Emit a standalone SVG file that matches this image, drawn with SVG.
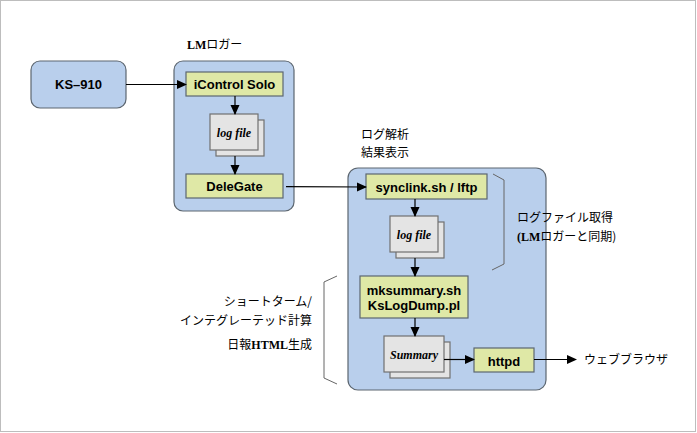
<svg xmlns="http://www.w3.org/2000/svg" width="697" height="433" viewBox="0 0 697 433">
<defs>
<marker id="ah" markerWidth="10" markerHeight="10" refX="9" refY="5" orient="auto" markerUnits="userSpaceOnUse">
<path d="M0,0.5 L10,5 L0,9.5 Z" fill="#000"/>
</marker>
</defs>
<style>
.cont{fill:#b9cfec;stroke:#5c6670;stroke-width:1.2}
.proc{fill:#dfe8a6;stroke:#5c6670;stroke-width:1.2}
.doc{fill:#e4e4e4;stroke:#707070;stroke-width:1.2}
.pt{font-family:"Liberation Sans",Arial,sans-serif;font-weight:bold;font-size:13px;text-anchor:middle;fill:#000}
.dt{font-family:"Liberation Serif","Times New Roman",serif;font-weight:bold;font-style:italic;font-size:12px;text-anchor:middle;fill:#000}
.jp{font-family:"Noto Sans CJK JP","Liberation Sans",sans-serif;font-size:12px;fill:#000}
.lat{font-family:"Liberation Serif","Times New Roman",serif;font-weight:bold}
.conn line,.conn polyline{stroke:#000;stroke-width:1.2;fill:none}
.br{stroke:#666;stroke-width:1;fill:none}
</style>
<rect x="0.5" y="0.5" width="695" height="431" fill="#fff" stroke="#bdbdbd" stroke-width="1"/>

<g id="ks910">
<rect class="cont" x="31" y="61" width="95" height="47" rx="9"/>
<text class="pt" x="78.5" y="89">KS–910</text>
</g>

<g id="lmlogger">
<rect class="cont" x="174" y="61" width="120" height="150" rx="9"/>
<text class="jp" x="187" y="49"><tspan class="lat">LM</tspan>ロガー</text>
</g>

<g id="icontrol">
<rect class="proc" x="186" y="72" width="97" height="24"/>
<text class="pt" x="234.5" y="89">iControl Solo</text>
</g>

<g id="logfile1">
<rect class="doc" x="216" y="120" width="48" height="36"/>
<rect class="doc" x="210" y="114" width="48" height="36"/>
<text class="dt" x="234" y="137">log file</text>
</g>

<g id="delegate">
<rect class="proc" x="186" y="174" width="97" height="24"/>
<text class="pt" x="234.5" y="191">DeleGate</text>
</g>

<g id="analysis">
<rect class="cont" x="348" y="168" width="198" height="222" rx="10"/>
<text class="jp" x="361" y="139">ログ解析</text>
<text class="jp" x="361" y="157">結果表示</text>
</g>

<g id="synclink">
<rect class="proc" x="366" y="174" width="121" height="25"/>
<text class="pt" x="426.5" y="191.5">synclink.sh / lftp</text>
</g>

<g id="logfile2">
<rect class="doc" x="396" y="222" width="48" height="36"/>
<rect class="doc" x="390" y="216" width="48" height="36"/>
<text class="dt" x="414" y="239">log file</text>
</g>

<g id="mksummary">
<rect class="proc" x="360" y="276" width="108" height="42"/>
<text class="pt" x="414" y="294.5">mksummary.sh</text>
<text class="pt" x="414" y="309.5">KsLogDump.pl</text>
</g>

<g id="summary">
<rect class="doc" x="390" y="342" width="60" height="36"/>
<rect class="doc" x="384" y="336" width="60" height="36"/>
<text class="dt" x="414" y="359">Summary</text>
</g>

<g id="httpd">
<rect class="proc" x="474" y="348" width="60" height="24"/>
<text class="pt" x="504" y="365.5">httpd</text>
</g>

<g id="browser">
<text class="jp" x="584" y="364">ウェブブラウザ</text>
</g>

<g id="note-sync">
<path class="br" d="M493,174 L504,180 L504,264 L492,270"/>
<text class="jp" x="517" y="222">ログファイル取得</text>
<text class="jp" x="517" y="241"><tspan class="lat">(LM</tspan>ロガーと同期)</text>
</g>

<g id="note-calc">
<path class="br" d="M337,276 L324,282 L324,378 L337,384"/>
<text class="jp" x="312" y="306" text-anchor="end">ショートターム/</text>
<text class="jp" x="312" y="324.5" text-anchor="end">インテグレーテッド計算</text>
<text class="jp" x="312" y="348.5" text-anchor="end">日報<tspan class="lat">HTML</tspan>生成</text>
</g>

<g class="conn" id="connectors">
<line x1="126" y1="84.5" x2="186" y2="84.5" marker-end="url(#ah)"/>
<line x1="235" y1="96" x2="235" y2="114" marker-end="url(#ah)"/>
<line x1="235" y1="156" x2="235" y2="174" marker-end="url(#ah)"/>
<line x1="286" y1="186.7" x2="366" y2="187" marker-end="url(#ah)"/>
<line x1="415" y1="199" x2="415" y2="216" marker-end="url(#ah)"/>
<line x1="415" y1="258" x2="415" y2="276" marker-end="url(#ah)"/>
<line x1="415" y1="318" x2="415" y2="336" marker-end="url(#ah)"/>
<line x1="444" y1="359.5" x2="474" y2="359.5" marker-end="url(#ah)"/>
<line x1="534" y1="359.5" x2="576" y2="359.5" marker-end="url(#ah)"/>
</g>
</svg>
